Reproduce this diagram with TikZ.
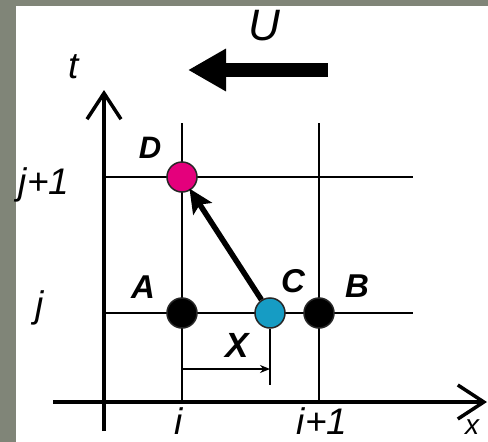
\documentclass[tikz,border=0pt]{standalone}
\usepackage{fontspec}
\setmainfont{Liberation Sans}
\usetikzlibrary{arrows.meta, positioning}
\definecolor{frame}{RGB}{128,133,120}
\definecolor{dpink}{RGB}{228,0,124}
\definecolor{ccyan}{RGB}{22,156,196}

\begin{document}
\begin{tikzpicture}[
    x=1pt, y=-1pt,
    gridline/.style={line width=2.6pt},
    axis/.style={line width=3.5pt, -{Straight Barb[length=26pt, width=34pt]}},
    dot/.style={circle, draw=black!85, line width=1.5pt, inner sep=0pt, minimum size=30pt},
    lab/.style={font=\fontsize{33}{40}\selectfont\bfseries\itshape, anchor=base, inner sep=0pt},
    idx/.style={font=\fontsize{37}{44}\selectfont\itshape, anchor=base, inner sep=0pt},
    ar/.style={line width=5.5pt, -{Stealth[length=24pt, width=22pt, inset=5pt]}, shorten >=-2pt},
    dim/.style={line width=2pt, -{Stealth[length=10pt, width=8pt]}}
]
\useasboundingbox (0,0) rectangle (488,442);
\fill[frame] (0,0) rectangle (488,442);
\fill[white] (16,6) rectangle (488,442);

% grid
\draw[gridline] (182,123) -- (182,402);
\draw[gridline] (319,123) -- (319,402);
\draw[gridline] (104,177) -- (413,177);
\draw[gridline] (104,313) -- (413,313);

% axes
\coordinate (tb) at (104,431);
\coordinate (tt) at (104,90);
\coordinate (xb) at (53,402);
\coordinate (xt) at (487,402);
\draw[axis] (tb) -- (tt);
\draw[axis] (xb) -- (xt);

% points
\node[dot, fill=black] (A) at (182,313) {};
\node[dot, fill=black] (B) at (319,313) {};
\node[dot, fill=ccyan] (C) at (270,313) {};
\node[dot, fill=dpink] (D) at (182,177) {};
\draw[ar] (C) -- (D);

% offset X
\coordinate (xe) at (270,385);
\coordinate (xl0) at (182,369);
\coordinate (xl1) at (270,369);
\draw[gridline] (C) -- (xe);
\draw[dim] (xl0) -- (xl1);

% flow direction
\coordinate (ut) at (328,70);
\coordinate (uh) at (188,70);
\draw[line width=14pt, -{Triangle[length=38pt, width=40pt]}] (ut) -- (uh);

% labels
\node[font=\fontsize{44}{50}\selectfont\itshape, anchor=base, inner sep=0pt] (Ul) at (264,40) {U};
\node[idx] (tl) at (74,78) {t};
\node[idx, font=\fontsize{28}{34}\selectfont\itshape] (xlab) at (472,434) {x};
\node[lab, font=\fontsize{31}{38}\selectfont\bfseries\itshape] (Dl) at (150,158) {D};
\node[lab] (Al) at (143,298) {A};
\node[lab] (Cl) at (293,292) {C};
\node[lab] (Bl) at (357,297) {B};
\node[lab, font=\fontsize{35}{42}\selectfont\bfseries\itshape] (Xl) at (237,357) {X};
\node[idx] (j1) at (44,194) {j+1};
\node[idx] (jl) at (40,317) {j};
\node[idx] (il) at (179,434) {i};
\node[idx] (i1) at (322,434) {i+1};
\end{tikzpicture}
\end{document}
